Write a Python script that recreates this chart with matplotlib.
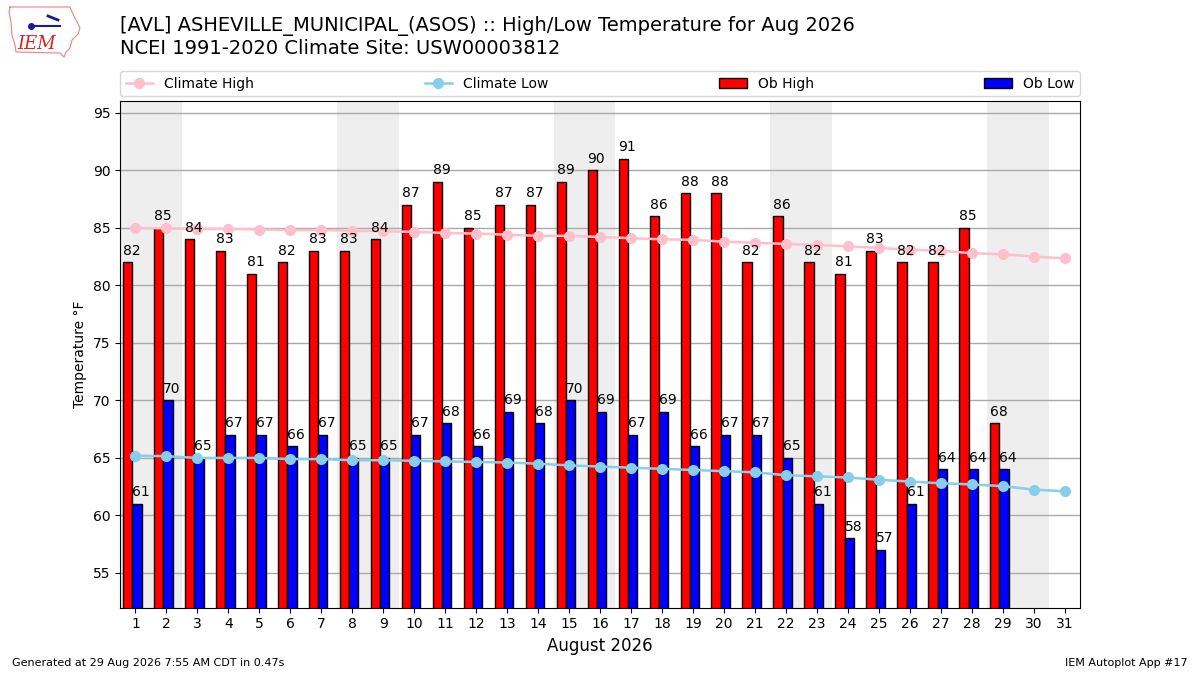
import matplotlib
matplotlib.use("Agg")
import matplotlib.pyplot as plt
from matplotlib.lines import Line2D
import numpy as np

days = list(range(1, 32))
obs_days = list(range(1, 30))
ob_highs = [82, 85, 84, 83, 81, 82, 83, 83, 84, 87, 89, 85, 87, 87, 89, 90, 91,
            86, 88, 88, 82, 86, 82, 81, 83, 82, 82, 85, 68]
ob_lows = [61, 70, 65, 67, 67, 66, 67, 65, 65, 67, 68, 66, 69, 68, 70, 69, 67,
           69, 66, 67, 67, 65, 61, 58, 57, 61, 64, 64, 64]
climate_high = [85.0, 84.95, 84.9, 84.9, 84.85, 84.8, 84.8, 84.75, 84.7, 84.65,
                84.55, 84.5, 84.4, 84.3, 84.3, 84.2, 84.1, 84.0, 83.95, 83.8,
                83.7, 83.6, 83.5, 83.4, 83.25, 83.1, 83.0, 82.8, 82.7, 82.5, 82.35]
climate_low = [65.2, 65.15, 65.0, 65.0, 65.0, 64.9, 64.9, 64.8, 64.8, 64.75,
               64.7, 64.65, 64.6, 64.5, 64.35, 64.25, 64.15, 64.05, 63.95, 63.85,
               63.75, 63.5, 63.4, 63.3, 63.1, 62.95, 62.8, 62.7, 62.55, 62.25, 62.1]
weekend_starts = [1, 8, 15, 22, 29]
yticks = [55, 60, 65, 70, 75, 80, 85, 90, 95]

fig = plt.figure(figsize=(12, 6.75), dpi=100)
ax = fig.add_axes([0.1, 0.1, 0.8, 0.75])

for s in weekend_starts:
    ax.axvspan(s - 0.5, s + 1.5, color="#EEEEEE", zorder=0, lw=0)

d = np.array(obs_days)
ax.plot(days, climate_high, color="pink", marker="o", ms=7, lw=1.8, zorder=3,
        label="Climate High")
ax.plot(days, climate_low, color="skyblue", marker="o", ms=7, lw=1.8, zorder=3,
        label="Climate Low")
ax.bar(d - 0.4, ob_highs, width=0.3, align="edge", fc="r", ec="k", zorder=2,
       label="Ob High")
ax.bar(d - 0.1, ob_lows, width=0.3, align="edge", fc="b", ec="k", zorder=2,
       label="Ob Low")
for x, v in zip(obs_days, ob_highs):
    ax.text(x - 0.4, v + 0.4, "%.0f" % v, ha="left", va="bottom", fontsize=10,
            zorder=4)
for x, v in zip(obs_days, ob_lows):
    ax.text(x - 0.1, v + 0.4, "%.0f" % v, ha="left", va="bottom", fontsize=10,
            zorder=4)

ax.set_xlim(0.5, 31.5)
ax.set_ylim(52, 96)
ax.set_xticks(days)
ax.set_yticks(yticks)
ax.yaxis.grid(True, color="#aaaaaa", lw=1, zorder=1)
ax.set_axisbelow(True)
ax.set_ylabel("Temperature °F")
ax.set_xlabel("August 2026", fontsize=12)

ax.legend(bbox_to_anchor=(0.0, 1.01, 1.0, 0.102), loc="lower left", ncol=4,
          mode="expand", borderaxespad=0.0)

fig.text(0.1, 0.977,
         "[AVL] ASHEVILLE_MUNICIPAL_(ASOS) :: High/Low Temperature for Aug 2026\n"
         "NCEI 1991-2020 Climate Site: USW00003812",
         ha="left", va="top", fontsize=14)
fig.text(0.01, 0.01, "Generated at 29 Aug 2026 7:55 AM CDT in 0.47s",
         ha="left", va="bottom", fontsize=8)
fig.text(0.99, 0.01, "IEM Autoplot App #17", ha="right", va="bottom",
         fontsize=8)

# approximate IEM logo
outline = [(10, 7), (70, 7), (72, 12), (76, 20), (80, 28), (78, 34), (72, 40),
           (70, 48), (66, 52), (64, 57), (60, 53), (16, 52), (15, 45), (12, 35),
           (11, 22), (9, 12), (10, 7)]
fig.add_artist(Line2D([p[0] / 1200 for p in outline],
                      [1 - p[1] / 675 for p in outline],
                      color="#f08080", lw=0.8, transform=fig.transFigure))
fig.add_artist(Line2D([31 / 1200, 60 / 1200], [1 - 26 / 675, 1 - 26 / 675],
                      color="#1a1aa0", lw=1.5, marker="", transform=fig.transFigure))
fig.add_artist(Line2D([31 / 1200], [1 - 26 / 675], color="#1a1aa0", marker="o",
                      ms=4, transform=fig.transFigure))
fig.add_artist(Line2D([48 / 1200, 58 / 1200], [1 - 16 / 675, 1 - 20 / 675],
                      color="#1a1aa0", lw=2, transform=fig.transFigure))
fig.text(37 / 1200, 1 - 44 / 675, "IEM", color="#dd2222", fontsize=13,
         style="italic", family="DejaVu Serif", ha="center", va="center")

fig.savefig("out.png", dpi=100)
